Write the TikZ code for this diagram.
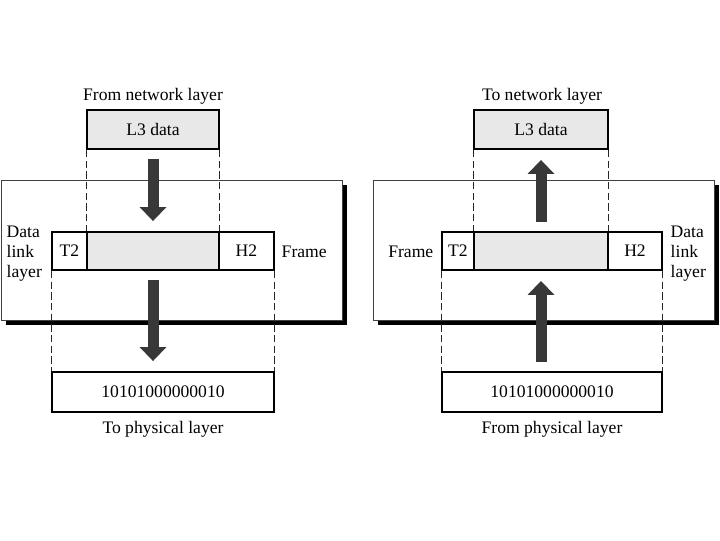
\documentclass[tikz,border=0pt]{standalone}
\usepackage{fontspec}
\setmainfont{Liberation Serif}
\usetikzlibrary{arrows.meta,shadows}

\begin{document}
\begin{tikzpicture}[x=.75pt,y=-.75pt,font=\fontsize{13.2}{15}\selectfont,
cell/.style={draw,line width=1.4pt,inner sep=0pt,minimum height=28.5pt},
gcell/.style={cell,fill=black!9},
dllbox/.style={draw=black!75,line width=.6pt,fill=white,minimum width=255.75pt,minimum height=105pt,drop shadow={shadow xshift=3.75pt,shadow yshift=-3.75pt,fill=black,opacity=1}},
guide/.style={dash pattern=on 5.5pt off 2.5pt,line width=.8pt,black!85},
bigarrow/.style={line width=8.25pt,black!78,-{Triangle[width=19.5pt,length=10.5pt]},shorten <=7pt,shorten >=7.5pt}]
\useasboundingbox(0,0)rectangle(720,540);
% sending side
\node[dllbox](dllL)at(171.5,250){};
\node[gcell,minimum width=99pt,minimum height=29.25pt](l3L)at(153,129.5){L3 data};
\node[gcell,minimum width=99pt](dataL)at(153,251){};\node[cell,minimum width=26.25pt](t2L)at(69.5,251){T2};\node[cell,minimum width=41.25pt](h2L)at(246.5,251){H2};
\node[cell,minimum width=166.5pt,minimum height=30pt](physL)at(163,392){10101000000010};
\node(fromnetL)at(153,96){From network layer};\node(tophysL)at(163,429){To physical layer};
\node[anchor=west](frameL)at(277,252){Frame};\node[anchor=west,align=left](dlltxtL)at(2,254){Data\\link\\layer};
\draw[guide](l3L.south west)--(dataL.north west)(l3L.south east)--(dataL.north east)(t2L.south west)--(physL.north west)(h2L.south east)--(physL.north east);
\draw[bigarrow](l3L)--(dataL);\draw[bigarrow](dataL.south)--(dataL.south|-physL.north);
% receiving side
\node[dllbox](dllR)at(543.5,250){};
\node[gcell,minimum width=100.5pt,minimum height=29.25pt](l3R)at(541,129.5){L3 data};
\node[gcell,minimum width=100.5pt](dataR)at(541,251){};\node[cell,minimum width=24pt](t2R)at(458,251){T2};\node[cell,minimum width=40.5pt](h2R)at(635,251){H2};
\node[cell,minimum width=165pt,minimum height=30pt](physR)at(552,392){10101000000010};
\node(tonetR)at(542,96){To network layer};\node(fromphysR)at(552,429){From physical layer};
\node[anchor=east](frameR)at(438,252){Frame};\node[anchor=west,align=left](dlltxtR)at(666,254){Data\\link\\layer};
\draw[guide](l3R.south west)--(dataR.north west)(l3R.south east)--(dataR.north east)(t2R.south west)--(physR.north west)(h2R.south east)--(physR.north east);
\draw[bigarrow](dataR)--(l3R);\draw[bigarrow](dataR.south|-physR.north)--(dataR.south);
\end{tikzpicture}
\end{document}
